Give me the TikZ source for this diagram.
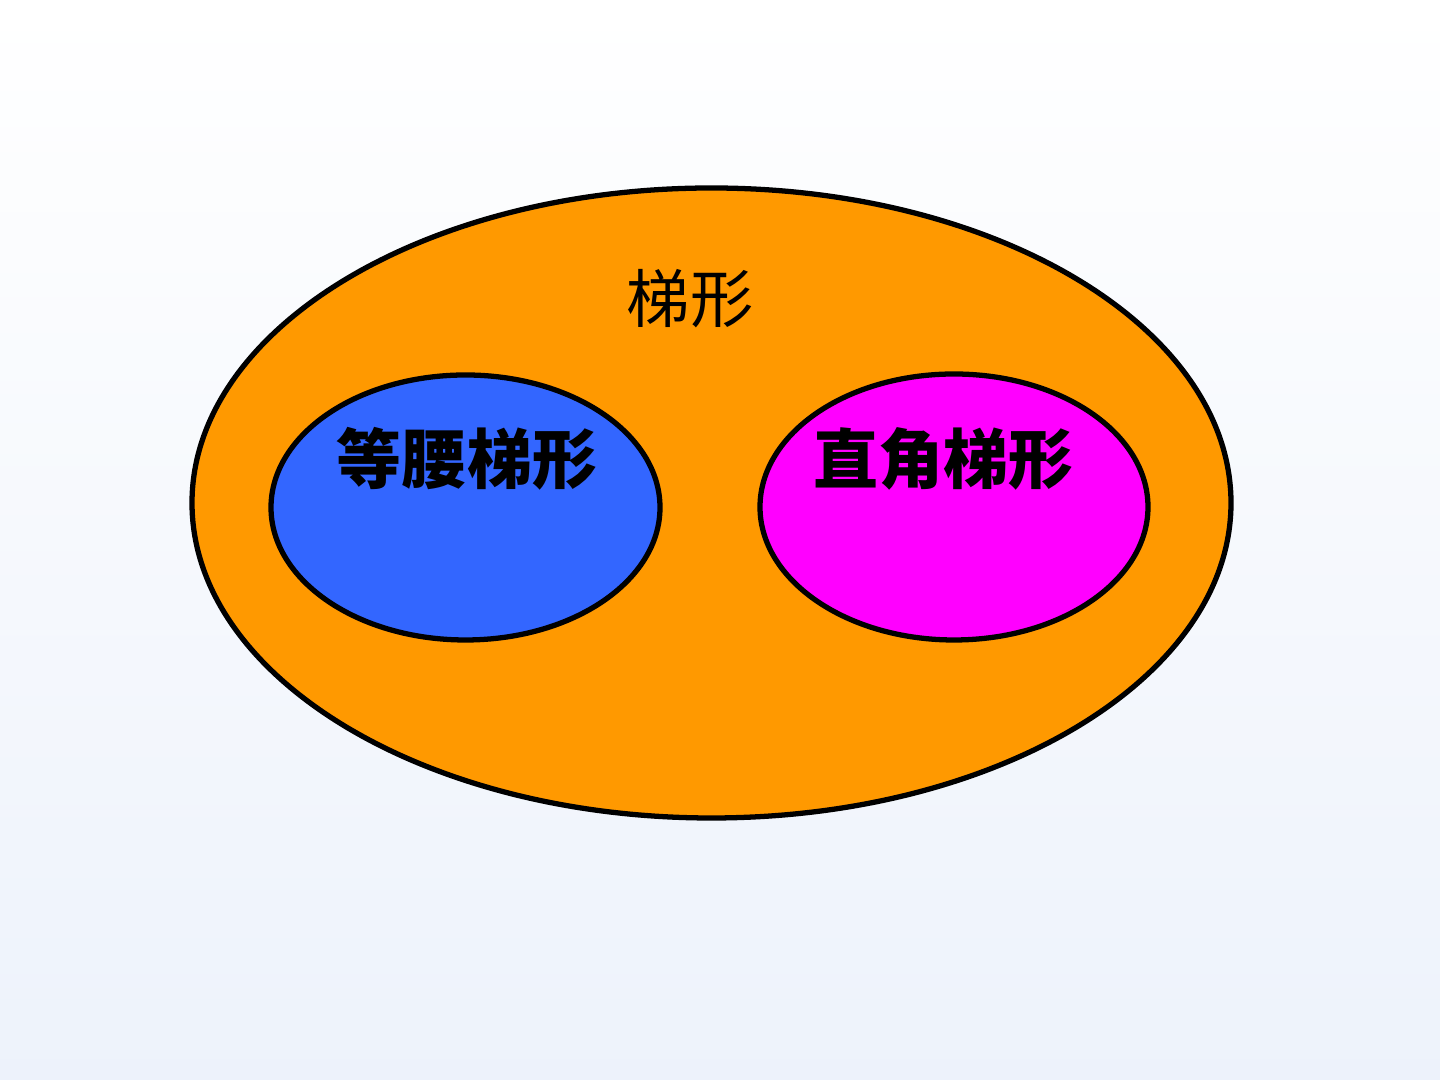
\documentclass[tikz,border=0pt]{standalone}
\usepackage{fontspec}
\newfontfamily\cjk{Noto Sans CJK SC}
\usetikzlibrary{positioning}
\definecolor{trapez}{rgb}{1.0,0.6,0.0}
\definecolor{isosc}{rgb}{0.2,0.4,1.0}
\definecolor{rightang}{rgb}{1.0,0.0,1.0}
\definecolor{bgtop}{rgb}{1.0,1.0,1.0}
\definecolor{bgbottom}{rgb}{0.93,0.95,0.985}
\tikzset{
  setline/.style={draw=black,line width=1.5pt},
  biglabel/.style={font=\cjk\fontsize{18}{18}\selectfont,inner sep=0pt},
  smalllabel/.style={font=\cjk\bfseries\fontsize{18.5}{18.5}\selectfont,inner sep=0pt}
}

\begin{document}
\begin{tikzpicture}
% background
\shade[top color=bgtop,bottom color=bgbottom] (0,0) rectangle (14.4,10.8);
\useasboundingbox (0,0) rectangle (14.4,10.8);

% the sets
\draw[setline,fill=trapez] (7.115,5.77) ellipse (5.195 and 3.15);
\draw[setline,fill=isosc] (4.655,5.725) ellipse (1.945 and 1.325);
\draw[setline,fill=rightang] (9.54,5.73) ellipse (1.94 and 1.33);

% labels
\node[biglabel] (all) at (6.90,7.81) {梯形};
\node[smalllabel] (iso) at (4.67,6.21) {等腰梯形};
\node[smalllabel,right=2.15 of iso] (rect) {直角梯形};

\end{tikzpicture}
\end{document}
